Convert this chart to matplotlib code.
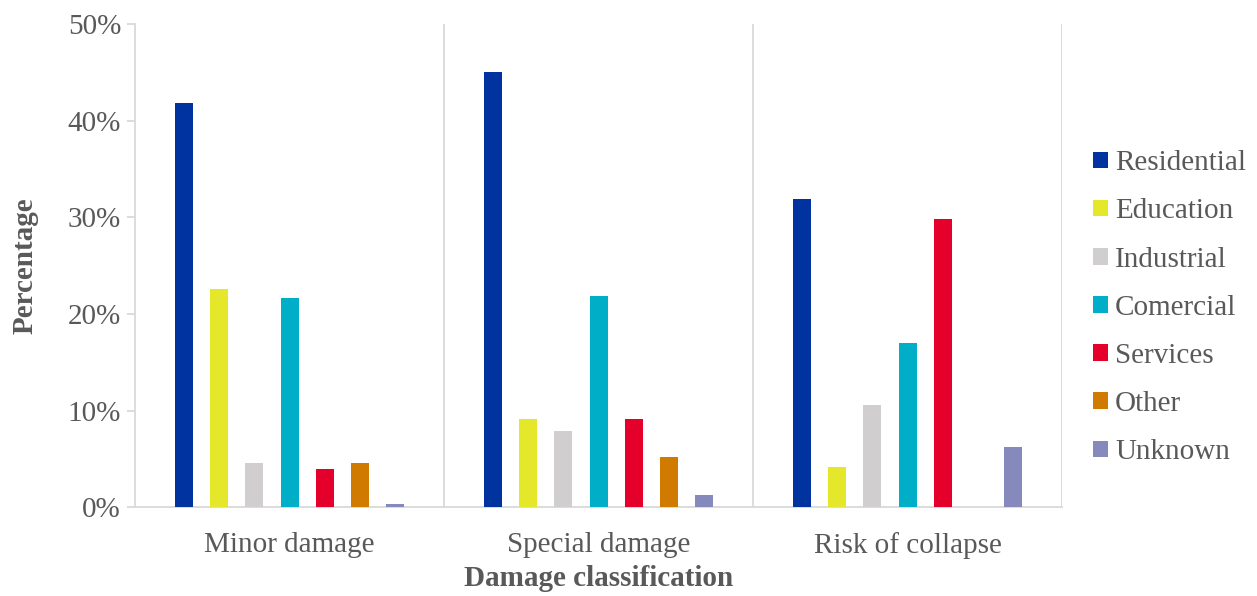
import numpy as np
import matplotlib
matplotlib.use('Agg')
import matplotlib.pyplot as plt
from matplotlib.ticker import PercentFormatter

categories = ['Minor damage', 'Special damage', 'Risk of collapse']
series = ['Residential', 'Education', 'Industrial', 'Comercial',
          'Services', 'Other', 'Unknown']
residential = [41.8, 45.0, 31.9]
education = [22.6, 9.2, 4.2]
industrial = [4.6, 7.9, 10.6]
comercial = [21.7, 21.9, 17.0]
services = [4.0, 9.2, 29.8]
other = [4.6, 5.2, 0.0]
unknown = [0.4, 1.3, 6.3]
values = [residential, education, industrial, comercial, services, other, unknown]
colors = ['#0033A0', '#E5E82A', '#D0CECE', '#00AEC7', '#E4002B', '#D17A00', '#8689BC']

plt.rcParams['font.family'] = ['Liberation Serif', 'DejaVu Serif']
text_col = '#595959'
line_col = '#D9D9D9'

fig = plt.figure(figsize=(12.57, 5.96), dpi=100)
ax = fig.add_axes([0.1074, 0.1485, 0.7375, 0.8115])

x = np.arange(len(categories))
slot = 0.8 / len(series)
for i, (name, vals, c) in enumerate(zip(series, values, colors)):
    pos = x - 0.4 + slot * (i + 0.5)
    ax.bar(pos, vals, width=slot * 0.51, color=c, label=name, zorder=3)

ax.set_xlim(-0.5, len(categories) - 0.5)
ax.set_ylim(0, 50)
ax.set_yticks(np.arange(0, 51, 10))
ax.yaxis.set_major_formatter(PercentFormatter(decimals=0))
ax.set_xticks(x)
ax.set_xticklabels(categories)

for b in np.arange(0.5, len(categories), 1.0):
    ax.axvline(b, color=line_col, lw=1.3, zorder=1)

for s in ['top', 'right']:
    ax.spines[s].set_visible(False)
ax.spines['left'].set_color(line_col)
ax.spines['bottom'].set_color(line_col)
ax.spines['left'].set_linewidth(1.3)
ax.spines['bottom'].set_linewidth(1.3)

ax.tick_params(axis='y', colors=line_col, labelcolor=text_col, labelsize=21,
               length=6, width=1.3, pad=4)
ax.tick_params(axis='x', length=0, labelcolor=text_col, labelsize=21, pad=18)

ax.set_xlabel('Damage classification', fontsize=21, fontweight='bold',
              color=text_col, labelpad=4)
ax.set_ylabel('Percentage', fontsize=21, fontweight='bold',
              color=text_col, labelpad=21)

leg = ax.legend(loc='center left', bbox_to_anchor=(1.021, 0.413), frameon=False,
                fontsize=21, handlelength=0.5, handleheight=0.5,
                handletextpad=0.25, labelspacing=0.76, borderaxespad=0)
for t in leg.get_texts():
    t.set_color(text_col)

fig.savefig('out.png', dpi=100, facecolor='white')
